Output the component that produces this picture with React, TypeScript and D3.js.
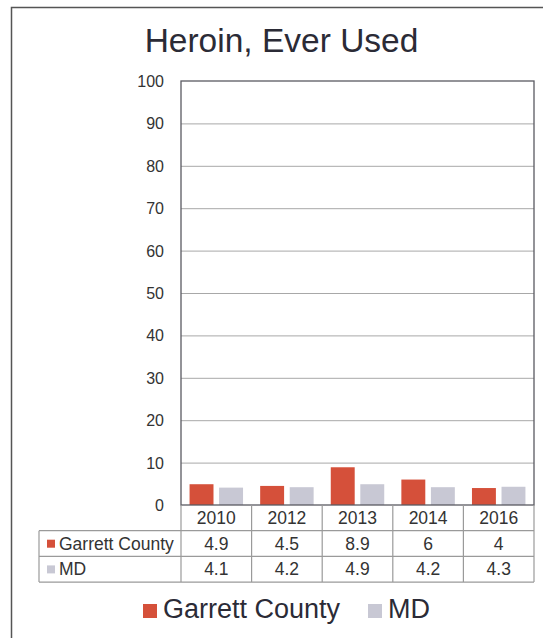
import React, { useRef, useEffect } from 'react';
import * as d3 from 'd3';

const years = ['2010', '2012', '2013', '2014', '2016'];
const garrett = [4.9, 4.5, 8.9, 6, 4];
const md = [4.1, 4.2, 4.9, 4.2, 4.3];
const seriesNames = ['Garrett County', 'MD'];
const seriesColors = ['#d5503a', '#c8c8d4'];
const yTicks = [0, 10, 20, 30, 40, 50, 60, 70, 80, 90, 100];

const width = 543;
const height = 638;
const font = '"Liberation Sans", Arial, sans-serif';

const App: React.FC = () => {
  const svgRef = useRef<SVGSVGElement>(null);

  useEffect(() => {
    const svg = d3.select(svgRef.current);
    svg.selectAll('*').remove();

    // outer frame
    svg.append('rect')
      .attr('x', 11.5).attr('y', 7.5)
      .attr('width', 560).attr('height', 660)
      .attr('fill', 'white')
      .attr('stroke', '#555')
      .attr('stroke-width', 1.5);

    // title
    svg.append('text')
      .attr('x', 281.5)
      .attr('y', 52)
      .attr('text-anchor', 'middle')
      .style('font-family', font)
      .style('font-size', '33.5px')
      .style('fill', '#2b2b36')
      .text('Heroin, Ever Used');

    const plot = { left: 181, right: 534, top: 81, bottom: 505 };

    const x0 = d3.scaleBand<string>()
      .domain(years)
      .range([plot.left, plot.right]);

    const x1 = d3.scaleBand<string>()
      .domain(seriesNames)
      .range([0, x0.bandwidth()])
      .paddingInner(0.19)
      .paddingOuter(0.29);

    const y = d3.scaleLinear()
      .domain([0, 100])
      .range([plot.bottom, plot.top]);

    // gridlines
    svg.append('g')
      .selectAll('line')
      .data(yTicks.filter(t => t > 0 && t < 100))
      .enter()
      .append('line')
      .attr('x1', plot.left).attr('x2', plot.right)
      .attr('y1', d => y(d) + 0.5).attr('y2', d => y(d) + 0.5)
      .attr('stroke', '#a8a8a8')
      .attr('stroke-width', 1);

    // y tick labels
    svg.append('g')
      .selectAll('text')
      .data(yTicks)
      .enter()
      .append('text')
      .attr('x', 164)
      .attr('y', d => y(d) + 6)
      .attr('text-anchor', 'end')
      .style('font-family', font)
      .style('font-size', '16px')
      .style('fill', '#333')
      .text(d => d);

    // bars
    const series = [garrett, md];
    series.forEach((values, si) => {
      svg.append('g')
        .selectAll('rect')
        .data(values)
        .enter()
        .append('rect')
        .attr('x', (d, i) => (x0(years[i]) || 0) + (x1(seriesNames[si]) || 0))
        .attr('y', d => y(d))
        .attr('width', x1.bandwidth())
        .attr('height', d => plot.bottom - y(d))
        .attr('fill', seriesColors[si]);
    });

    // plot border
    svg.append('rect')
      .attr('x', plot.left).attr('y', plot.top)
      .attr('width', plot.right - plot.left)
      .attr('height', plot.bottom - plot.top)
      .attr('fill', 'none')
      .attr('stroke', '#5a5a62')
      .attr('stroke-width', 1.3);

    // data table
    const rowH = 25.7;
    const tableLeft = 39;
    const rowTops = [plot.bottom, plot.bottom + rowH, plot.bottom + 2 * rowH, plot.bottom + 3 * rowH];
    const table = svg.append('g');
    const lineColor = '#9a9a9a';

    rowTops.slice(1).forEach(ry => {
      table.append('line')
        .attr('x1', tableLeft).attr('x2', plot.right)
        .attr('y1', ry).attr('y2', ry)
        .attr('stroke', lineColor).attr('stroke-width', 1.2);
    });
    table.append('line')
      .attr('x1', tableLeft).attr('x2', tableLeft)
      .attr('y1', rowTops[1]).attr('y2', rowTops[3])
      .attr('stroke', lineColor).attr('stroke-width', 1.2);
    const colEdges = years.map(yr => x0(yr) || 0).concat([plot.right]);
    colEdges.forEach(cx => {
      table.append('line')
        .attr('x1', cx).attr('x2', cx)
        .attr('y1', plot.bottom).attr('y2', rowTops[3])
        .attr('stroke', lineColor).attr('stroke-width', 1.2);
    });

    // header row
    table.selectAll('.year')
      .data(years)
      .enter()
      .append('text')
      .attr('class', 'year')
      .attr('x', d => (x0(d) || 0) + x0.bandwidth() / 2)
      .attr('y', rowTops[0] + 19)
      .attr('text-anchor', 'middle')
      .style('font-family', font)
      .style('font-size', '17.5px')
      .style('fill', '#333')
      .text(d => d);

    series.forEach((values, si) => {
      const ry = rowTops[si + 1];
      table.append('rect')
        .attr('x', 47).attr('y', ry + 9)
        .attr('width', 8).attr('height', 8)
        .attr('fill', seriesColors[si]);
      table.append('text')
        .attr('x', 59)
        .attr('y', ry + 19)
        .style('font-family', font)
        .style('font-size', '17.5px')
        .style('fill', '#333')
        .text(seriesNames[si]);
      table.selectAll(`.val${si}`)
        .data(values)
        .enter()
        .append('text')
        .attr('class', `val${si}`)
        .attr('x', (d, i) => (x0(years[i]) || 0) + x0.bandwidth() / 2)
        .attr('y', ry + 19)
        .attr('text-anchor', 'middle')
        .style('font-family', font)
        .style('font-size', '17.5px')
        .style('fill', '#333')
        .text(d => d);
    });

    // legend
    const legendX = [143, 368];
    seriesNames.forEach((name, si) => {
      svg.append('rect')
        .attr('x', legendX[si]).attr('y', 604)
        .attr('width', 14).attr('height', 14)
        .attr('fill', seriesColors[si]);
      svg.append('text')
        .attr('x', legendX[si] + 20)
        .attr('y', 618)
        .style('font-family', font)
        .style('font-size', '27px')
        .style('fill', '#2b2b36')
        .text(name);
    });
  }, []);

  return (
    <svg
      ref={svgRef}
      width={width}
      height={height}
      style={{ position: 'absolute', left: 0, top: 0, background: 'white' }}
    />
  );
};

export default App;
